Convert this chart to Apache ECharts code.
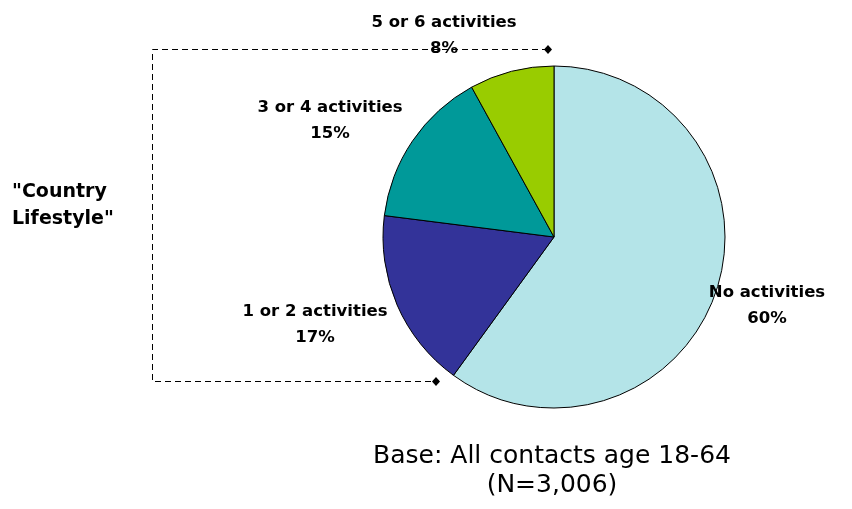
<!DOCTYPE html>
<html><head><meta charset="utf-8">
<script src="https://cdn.jsdelivr.net/npm/echarts@6/dist/echarts.min.js"></script>
<style>html,body{margin:0;padding:0;background:#fff}#c{width:852px;height:509px}</style>
</head><body><div id="c"></div>
<script>
const categories = ["No activities", "1 or 2 activities", "3 or 4 activities", "5 or 6 activities"];
const values = [60, 17, 15, 8];
const colors = ["#b4e4e8", "#333399", "#009999", "#99cc00"];
const sideLabel = ["\"Country", "Lifestyle\""];
const baseNote = ["Base: All contacts age 18-64", "(N=3,006)"];

// label anchor positions (centre of label block) in px
const labelPos = [[767, 306], [315, 325], [330, 121], [444, 36]];

const chart = echarts.init(document.getElementById('c'));
const F = 'DejaVu Sans';
chart.setOption({
  animation: false,
  backgroundColor: '#fff',
  graphic: [
    { type: 'polyline', shape: { points: [[548, 49.5], [152.5, 49.5], [152.5, 381.5], [436, 381.5]] },
      style: { stroke: '#000', lineWidth: 1, lineDash: [6, 4], fill: null }, z: 0 },
    { type: 'polygon', shape: { points: [[548, 45], [552, 49.5], [548, 54], [544, 49.5]] }, style: { fill: '#000' }, z: 10 },
    { type: 'polygon', shape: { points: [[436, 377], [440, 381.5], [436, 386], [432, 381.5]] }, style: { fill: '#000' }, z: 10 },
    { type: 'text', x: 12, y: 179, style: { text: sideLabel.join('\n'), font: 'bold 19px ' + F, fill: '#000', lineHeight: 27, textAlign: 'left' } },
    { type: 'text', x: 552, y: 442, style: { text: baseNote.join('\n'), font: '25px ' + F, fill: '#000', lineHeight: 29, textAlign: 'center' } }
  ],
  series: [{
    type: 'pie',
    center: [554, 237],
    radius: [0, 171],
    startAngle: 90,
    clockwise: true,
    data: categories.map((c, i) => ({ name: c, value: values[i], itemStyle: { color: colors[i] } })),
    itemStyle: { borderColor: '#000', borderWidth: 1 },
    label: {
      show: true,
      formatter: '{b}\n{d}%',
      fontFamily: F, fontWeight: 'bold', fontSize: 16.5, color: '#000',
      lineHeight: 26, align: 'center', overflow: 'none', width: 200
    },
    labelLine: { show: false },
    labelLayout: function (p) {
      const pos = labelPos[p.dataIndex];
      return { x: pos[0], y: pos[1], align: 'center', verticalAlign: 'middle' };
    },
    emphasis: { disabled: true }
  }]
});
</script></body></html>
